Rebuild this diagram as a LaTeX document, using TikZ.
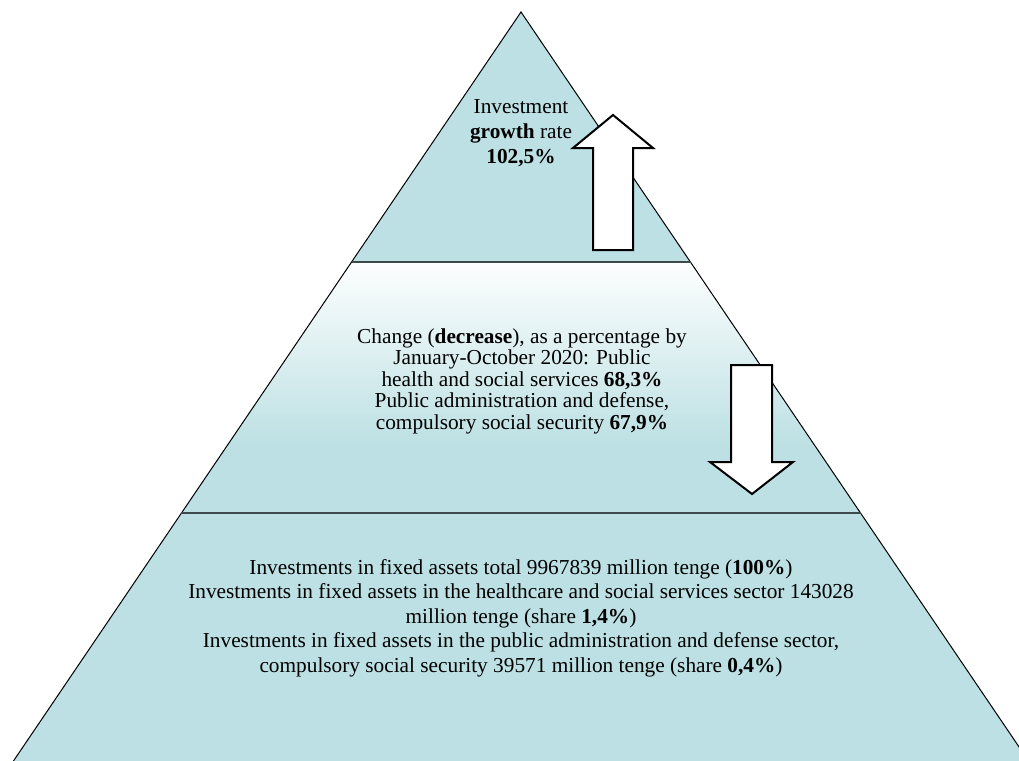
\documentclass[tikz,border=0pt]{standalone}
\usepackage{fontspec}
\setmainfont{Liberation Serif}
\definecolor{pyr}{HTML}{BCE0E3}
\definecolor{divider}{HTML}{3D4A4B}
\pgfdeclareverticalshading{midshade}{100bp}{color(0bp)=(pyr); color(25bp)=(pyr); color(38bp)=(pyr); color(75bp)=(white!97!pyr); color(100bp)=(white!97!pyr)}
\tikzset{
  side/.style={draw=black, line width=1},
  divline/.style={draw=divider, line width=2.6},
  bigarrow/.style={draw=black, fill=white, line width=2, line join=miter},
  label/.style={align=center, text=black, inner sep=0pt},
}
\begin{document}
\begin{tikzpicture}[x=1pt,y=-1pt]
\useasboundingbox (0,0) rectangle (1019,760);
\coordinate (apex) at (521,12);
\coordinate (l1) at (351.5,262);
\coordinate (r1) at (690.5,262);
\coordinate (l2) at (181.3,513);
\coordinate (r2) at (860.7,513);
\coordinate (lb) at (-13,800);
\coordinate (rb) at (1055,800);
\begin{scope}
\clip (0,0) rectangle (1019,760);
\fill[pyr] (apex) -- (rb) -- (lb) -- cycle;
\shade[shading=midshade] (l1) -- (r1) -- (r2) -- (l2) -- cycle;
\draw[side] (lb) -- (apex) -- (rb);
\end{scope}
\draw[divline] (l1) -- (r1);
\draw[divline] (l2) -- (r2);
% up arrow
\draw[bigarrow] (593,250) -- (593,148) -- (573,148) -- (613,115) -- (653,148) -- (633,148) -- (633,250) -- cycle;
% down arrow
\draw[bigarrow] (731,365) -- (731,462) -- (710,462) -- (752,494) -- (793,462) -- (772,462) -- (772,365) -- cycle;
\node[label, font=\fontsize{21.3}{25}\selectfont] (toptext) at (521,133) {Investment\\\textbf{growth} rate\\\textbf{102,5\%}};
\node[label, font=\fontsize{21.3}{21.5}\selectfont] (midtext) at (522,381) {Change (\textbf{decrease}), as a percentage by\\January-October 2020: Public\\health and social services \textbf{68,3\%}\\Public administration and defense,\\compulsory social security \textbf{67,9\%}};
\node[label, font=\fontsize{21.3}{24.5}\selectfont] (bottext) at (521,618) {Investments in fixed assets total 9967839 million tenge (\textbf{100\%})\\Investments in fixed assets in the healthcare and social services sector 143028\\million tenge (share \textbf{1,4\%})\\Investments in fixed assets in the public administration and defense sector,\\compulsory social security 39571 million tenge (share \textbf{0,4\%})};
\end{tikzpicture}
\end{document}
